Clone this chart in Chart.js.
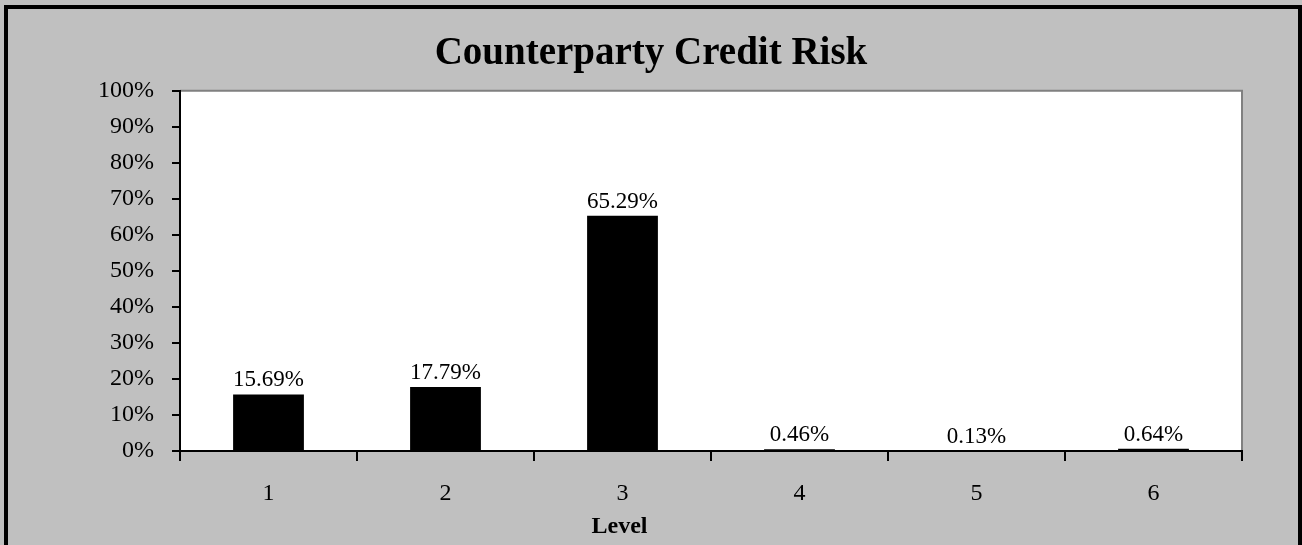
<!DOCTYPE html>
<html>
<head>
<meta charset="utf-8">
<script src="https://cdn.jsdelivr.net/npm/chart.js@4/dist/chart.umd.min.js"></script>
<style>
  html, body { margin: 0; padding: 0; background: #c0c0c0; }
  #c { display: block; }
</style>
</head>
<body>
<canvas id="c" width="1302" height="545"></canvas>
<script>
// ---- data ----
const categories = ['1', '2', '3', '4', '5', '6'];
const shares = [15.69, 17.79, 65.29, 0.46, 0.13, 0.64];
const valueLabels = ['15.69%', '17.79%', '65.29%', '0.46%', '0.13%', '0.64%'];
const yTickLabels = ['0%', '10%', '20%', '30%', '40%', '50%', '60%', '70%', '80%', '90%', '100%'];
const chartTitle = 'Counterparty Credit Risk';
const xAxisTitle = 'Level';

const SERIF = '"Liberation Serif", "Times New Roman", serif';

const framePlugin = {
  id: 'frame',
  beforeDraw(chart) {
    const ctx = chart.ctx;
    const a = chart.chartArea;
    ctx.save();
    ctx.fillStyle = '#c0c0c0';
    ctx.fillRect(0, 0, chart.width, chart.height);
    ctx.fillStyle = '#000000';
    ctx.fillRect(4, 5, chart.width - 4, 4);
    ctx.fillRect(4, 5, 4, chart.height - 5);
    ctx.fillRect(chart.width - 4, 5, 4, chart.height - 5);
    ctx.fillStyle = '#ffffff';
    ctx.fillRect(a.left, a.top, a.right - a.left, a.bottom - a.top);
    ctx.strokeStyle = '#808080';
    ctx.lineWidth = 2;
    ctx.beginPath();
    ctx.moveTo(a.left, a.top);
    ctx.lineTo(a.right, a.top);
    ctx.lineTo(a.right, a.bottom);
    ctx.stroke();
    ctx.restore();
  }
};

const labelPlugin = {
  id: 'valueLabels',
  afterDatasetsDraw(chart) {
    const ctx = chart.ctx;
    const meta = chart.getDatasetMeta(0);
    ctx.save();
    ctx.font = '23px ' + SERIF;
    ctx.fillStyle = '#000000';
    ctx.textAlign = 'center';
    ctx.textBaseline = 'alphabetic';
    meta.data.forEach((bar, i) => {
      ctx.fillText(valueLabels[i], bar.x, bar.y - 8);
    });
    // x-axis title
    const xs = chart.scales.x;
    ctx.font = 'bold 24px ' + SERIF;
    ctx.fillText(xAxisTitle, xs.getPixelForValue(2) - 3, 533);
    ctx.restore();
  }
};

new Chart(document.getElementById('c'), {
  type: 'bar',
  data: {
    labels: categories,
    datasets: [{
      data: shares,
      backgroundColor: '#000000',
      borderWidth: 0,
      categoryPercentage: 1.0,
      barPercentage: 0.4
    }]
  },
  options: {
    responsive: false,
    animation: false,
    layout: { padding: 0 },
    plugins: {
      legend: { display: false },
      tooltip: { enabled: false },
      title: {
        display: true,
        text: chartTitle,
        color: '#000000',
        font: { family: SERIF, size: 39, weight: 'bold', lineHeight: 1.2 },
        padding: { top: 31, bottom: 13 }
      }
    },
    scales: {
      x: {
        grid: {
          display: true,
          drawOnChartArea: false,
          drawTicks: true,
          tickLength: 10,
          color: '#000000',
          lineWidth: 2
        },
        border: { display: true, color: '#000000', width: 2 },
        ticks: {
          color: '#000000',
          font: { family: SERIF, size: 24 },
          padding: 18,
          maxRotation: 0
        },
        afterFit(scale) { scale.height = 94; }
      },
      y: {
        min: 0,
        max: 100,
        grid: {
          display: true,
          drawOnChartArea: false,
          drawTicks: true,
          tickLength: 8,
          color: '#000000',
          lineWidth: 2
        },
        border: { display: true, color: '#000000', width: 2 },
        ticks: {
          stepSize: 10,
          color: '#000000',
          font: { family: SERIF, size: 24 },
          padding: 18,
          callback: (v) => yTickLabels[Math.round(v / 10)]
        },
        afterFit(scale) { scale.width = 180; }
      },
      yRight: {
        position: 'right',
        display: true,
        grid: { display: false, drawTicks: false },
        border: { display: false },
        ticks: { display: false },
        afterFit(scale) { scale.width = 60; }
      }
    }
  },
  plugins: [framePlugin, labelPlugin]
});
</script>
</body>
</html>
